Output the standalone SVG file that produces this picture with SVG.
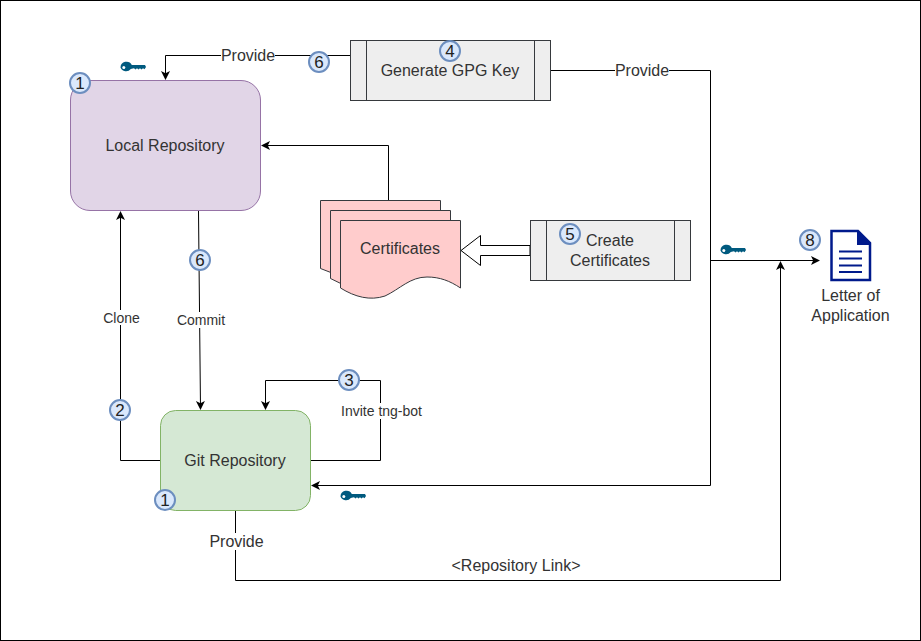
<svg xmlns="http://www.w3.org/2000/svg" width="921" height="641" viewBox="0 0 921 641">
<style>
text{font-family:"Liberation Sans",Arial,sans-serif;font-size:16px;fill:#333;text-anchor:middle}
.s{font-size:14px}
.n{font-size:17px;fill:#222}
.c{fill:none;stroke:#000;stroke-width:1}
.b{fill:#dae8fc;stroke:#6c8ebf;stroke-width:2}
.p{fill:#eeeeee;stroke:#36393d;stroke-width:1}
.d{fill:#ffcccc;stroke:#36393d;stroke-width:1}
.w{fill:#fff}
</style>
<defs>
<marker id="a" markerWidth="11" markerHeight="11" refX="8" refY="5" orient="auto" markerUnits="userSpaceOnUse"><path d="M0 0.500L9 5L0 9.500L2.200 5Z" fill="#000"/></marker>
<g id="key"><path d="M0 0a6 6 0 0 1 11.300-2.600H24.500L25.500 -0.500l-1.500 2.200-1.500-1-1.500 1.300-1.500-1.300-1.500 1.300-1.500-1.300-1.500 1.300-1.500-1.300-3.200.8A6 6 0 0 1 0 0Z" fill="#005a7f"/><circle cx="3.300" cy="0" r="1.500" fill="#fff"/></g>
<g id="num"><circle r="10" class="b"/></g>
</defs>
<rect x="0.500" y="0.500" width="920" height="640" fill="#fff" stroke="#000"/>
<g id="connectors">
<path class="c" d="M350 55.500H165.500V79" marker-end="url(#a)"/>
<path class="c" d="M551 70.500H710.500V485.500H312" marker-end="url(#a)"/>
<path class="c" d="M710.500 260.500H819" marker-end="url(#a)"/>
<path class="c" d="M388.500 200V145.500H262" marker-end="url(#a)"/>
<path class="c" d="M198.500 211L200.500 409" marker-end="url(#a)"/>
<path class="c" d="M160 460.500H120.500V212" marker-end="url(#a)"/>
<path class="c" d="M311 460.500H380.500V380.500H265.500V409" marker-end="url(#a)"/>
<path class="c" d="M235.500 511V580.500H780.500V262" marker-end="url(#a)"/>
<path d="M530 245.500V255.500H480.500V265.500L461 250.500L480.500 235.500V245.500Z" fill="#fff" stroke="#000"/>
<rect class="w" x="221" y="47" width="54" height="17"/><text x="248" y="60.500">Provide</text>
<rect class="w" x="615" y="62" width="54" height="17"/><text x="642" y="75.500">Provide</text>
<rect class="w" x="103" y="310" width="37" height="15"/><text class="s" x="121.500" y="323">Clone</text>
<rect class="w" x="177" y="312" width="48" height="16"/><text class="s" x="201" y="325">Commit</text>
<rect class="w" x="341" y="403" width="81" height="16"/><text class="s" x="381.500" y="416">Invite tng-bot</text>
<rect class="w" x="209" y="533" width="55" height="17"/><text x="236.500" y="546.500">Provide</text>
<rect class="w" x="451" y="557" width="130" height="17"/><text x="516" y="570.500">&lt;Repository Link&gt;</text>
</g>
<g id="local-repository"><rect x="70.500" y="80.500" width="190" height="130" rx="19.500" fill="#e1d5e7" stroke="#9673a6"/><text x="165" y="150.500">Local Repository</text></g>
<g id="git-repository"><rect x="160.500" y="410.500" width="150" height="100" rx="15" fill="#d5e8d4" stroke="#82b366"/><text x="235" y="465.500">Git Repository</text></g>
<g id="generate-gpg-key"><rect class="p" x="350.500" y="40.500" width="200" height="60"/><path class="c" d="M366.500 40.500V100.500M534.500 40.500V100.500" style="stroke:#36393d"/><text x="450" y="75.500">Generate GPG Key</text></g>
<g id="create-certificates"><rect class="p" x="530.500" y="220.500" width="160" height="60"/><path class="c" d="M546.500 220.500V280.500M674.500 220.500V280.500" style="stroke:#36393d"/><text x="610" y="245.500">Create</text><text x="610" y="265.500">Certificates</text></g>
<g id="certificates">
<path class="d" d="M320.500 200.500H440.500V260H345V278L320.500 268.500Z"/>
<path class="d" d="M330.500 210.500H450.500V270H350V288L330.500 278.500Z"/>
<path class="d" d="M340.500 220.500H460.500V288C450 281 440 277 427 277C410 277 400 289 385 296C370 301 355 297 340.500 288Z"/>
<text x="400" y="254">Certificates</text>
</g>
<g id="letter-of-application">
<path d="M831.500 231H858L870 243V280H831.500Z" fill="#fff" stroke="#001a8c" stroke-width="2.500"/>
<path d="M857 231L871 245H857Z" fill="#001a8c"/>
<path d="M839 251.500H862M839 258.500H862M839 265.500H862M839 272H862" stroke="#001a8c" stroke-width="2.200" fill="none"/>
<text x="850.500" y="300.500">Letter of</text><text x="850.500" y="320.500">Application</text>
</g>
<g id="keys">
<use href="#key" x="120.500" y="67.500"/>
<use href="#key" x="720.500" y="250.500"/>
<use href="#key" x="340.500" y="496.500"/>
</g>
<g id="badges">
<use href="#num" x="80" y="83"/><text class="n" x="80" y="88.500">1</text>
<use href="#num" x="319" y="62"/><text class="n" x="319" y="67.500">6</text>
<use href="#num" x="450" y="51"/><text class="n" x="450" y="56.500">4</text>
<use href="#num" x="570" y="234"/><text class="n" x="570" y="239.500">5</text>
<use href="#num" x="810" y="240"/><text class="n" x="810" y="245.500">8</text>
<use href="#num" x="200" y="260"/><text class="n" x="200" y="265.500">6</text>
<use href="#num" x="120" y="410"/><text class="n" x="120" y="415.500">2</text>
<use href="#num" x="349" y="380"/><text class="n" x="349" y="385.500">3</text>
<use href="#num" x="165" y="500"/><text class="n" x="165" y="505.500">1</text>
</g>
</svg>
